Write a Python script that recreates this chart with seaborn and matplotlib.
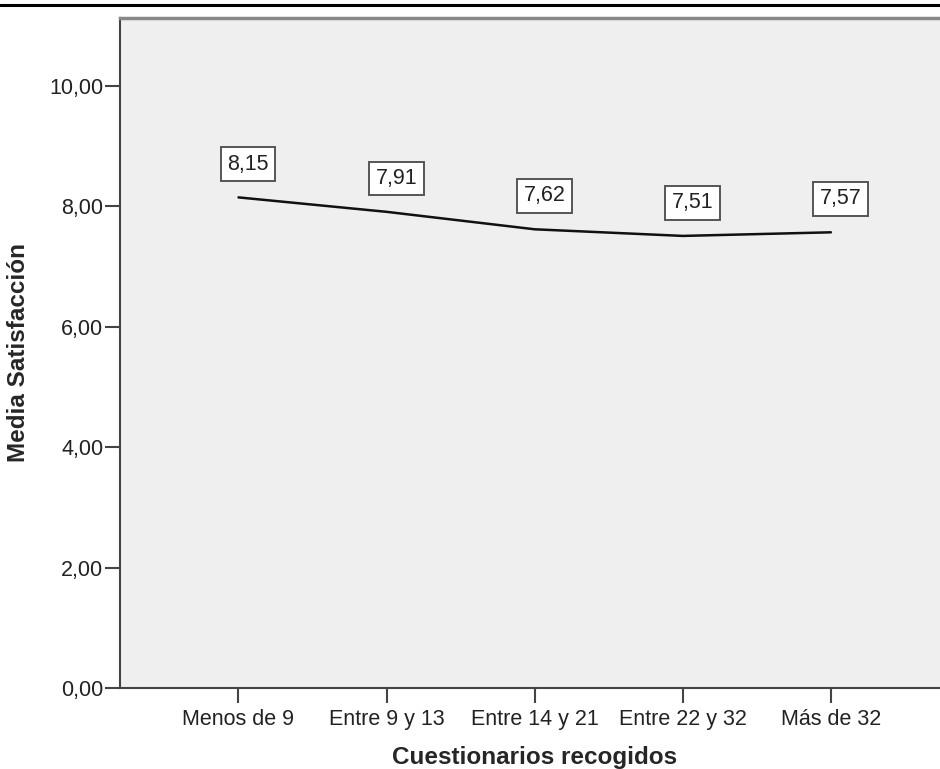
import matplotlib
matplotlib.use("Agg")
import matplotlib.pyplot as plt
import seaborn as sns
import pandas as pd
from matplotlib.ticker import FuncFormatter
from matplotlib.lines import Line2D

# datos
categorias = ["Menos de 9", "Entre 9 y 13", "Entre 14 y 21", "Entre 22 y 32", "Más de 32"]
media = [8.15, 7.91, 7.62, 7.51, 7.57]
yticks = [0, 2, 4, 6, 8, 10]

df = pd.DataFrame({"Cuestionarios recogidos": categorias, "Media Satisfacción": media})

sns.set_style("ticks")
plt.rcParams["font.family"] = ["Liberation Sans", "DejaVu Sans"]

fig = plt.figure(figsize=(9.4, 7.69), dpi=100)
ax = fig.add_axes([120 / 940, 81 / 769, 1.0 - 120 / 940 + 0.01, (688 - 18) / 769])
ax.set_facecolor("#efefef")

sns.lineplot(data=df, x="Cuestionarios recogidos", y="Media Satisfacción",
             sort=False, color="#111111", linewidth=1.8, ax=ax)

for i, v in enumerate(media):
    ax.annotate(f"{v:.2f}".replace(".", ","), xy=(i, v), xytext=(7, 24),
                textcoords="offset points", ha="center", va="center",
                fontsize=15.5, color="#222222",
                bbox=dict(boxstyle="square,pad=0.3", fc="white", ec="#555555", lw=1.4))

ax.set_xlim(-0.8, 4.8)
ax.set_ylim(0, 11.13)
ax.set_yticks(yticks)
ax.yaxis.set_major_formatter(FuncFormatter(lambda v, p: f"{v:.2f}".replace(".", ",")))

ax.tick_params(axis="both", direction="out", length=11, width=1.5, color="#444444",
               labelsize=15.5, labelcolor="#222222", pad=1, bottom=True, left=True)
ax.tick_params(axis="x", pad=4)

for s in ["left", "bottom"]:
    ax.spines[s].set_color("#444444")
    ax.spines[s].set_linewidth(1.5)
ax.spines["top"].set_visible(True)
ax.spines["top"].set_color("#888888")
ax.spines["top"].set_linewidth(2.5)
ax.spines["right"].set_visible(False)

ax.set_xlabel("Cuestionarios recogidos", fontsize=17.5, fontweight="bold")
ax.set_ylabel("Media Satisfacción", fontsize=17.5, fontweight="bold")
ax.xaxis.set_label_coords((530 - 120) / 820, -0.087)
ax.yaxis.set_label_coords(-(120 - 31) / 820, (688 - 352) / 670)

fig.add_artist(Line2D([0, 1], [1 - 5 / 769, 1 - 5 / 769], color="black", linewidth=2.2,
                      transform=fig.transFigure))

fig.savefig("out.png", dpi=100)
